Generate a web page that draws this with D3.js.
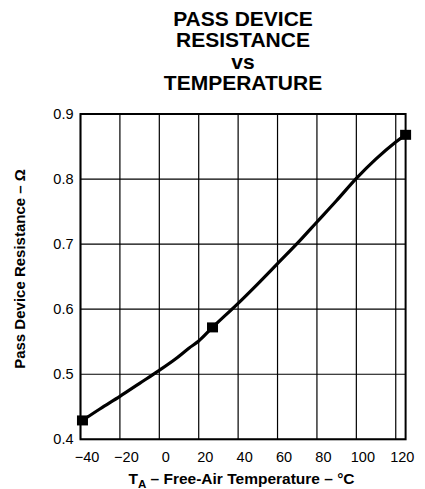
<!DOCTYPE html>
<html><head><meta charset="utf-8">
<script src="https://cdn.jsdelivr.net/npm/d3@7"></script>
<style>body{margin:0;background:#fff}svg{display:block}text{font-family:"Liberation Sans",Arial,Helvetica,sans-serif}</style>
</head><body><svg id="c" width="425" height="489"></svg>
<script>
const titleLines = ["PASS DEVICE","RESISTANCE","vs","TEMPERATURE"];
const xTicks = [-40,-20,0,20,40,60,80,100,120];
const xTickLabels = ["\u221240","\u221220","0","20","40","60","80","100","120"];
const yTicks = [0.4,0.5,0.6,0.7,0.8,0.9];
const yTickLabels = ["0.4","0.5","0.6","0.7","0.8","0.9"];
const curveT = [-39,-30,-20,-10,0,8,15,20,27,40,50,60,70,80,90,100,110,120,125];
const curveR = [0.429,0.447,0.466,0.486,0.506,0.523,0.540,0.551,0.572,0.609,0.639,0.670,0.701,0.734,0.767,0.801,0.831,0.857,0.868];
const markerT = [-39,27,125];
const markerR = [0.429,0.572,0.868];

const svg = d3.select("#c");
const L=80.5,R=405.6,T=114,B=439.3;
const x = d3.scaleLinear().domain([-40,125]).range([L,R]);
const y = d3.scaleLinear().domain([0.4,0.9]).range([B,T]);

// title
const tt = svg.append("text").attr("text-anchor","middle").attr("font-weight","bold").attr("font-size",21);
titleLines.forEach((s,i)=>tt.append("tspan").attr("x",243).attr("y",26+i*21.3).text(s));

// grid
const g = svg.append("g");
g.selectAll(".vg").data(xTicks).join("line").attr("x1",d=>x(d)).attr("x2",d=>x(d)).attr("y1",T).attr("y2",B).attr("stroke","#000").attr("stroke-width",1.2);
g.selectAll(".hg").data(yTicks).join("line").attr("x1",L).attr("x2",R).attr("y1",d=>y(d)).attr("y2",d=>y(d)).attr("stroke","#000").attr("stroke-width",1.2);
svg.append("rect").attr("x",L).attr("y",T).attr("width",R-L).attr("height",B-T).attr("fill","none").attr("stroke","#000").attr("stroke-width",2);

// axes labels
const xa = d3.axisBottom(x).tickValues(xTicks).tickFormat((d,i)=>xTickLabels[i]).tickSize(0).tickPadding(0);
const xg = svg.append("g").attr("transform",`translate(6,${B})`).call(xa);
xg.select(".domain").remove();
xg.selectAll("text").attr("font-size",14.5).attr("font-family","Liberation Sans, Arial, sans-serif").attr("fill","#000").attr("dy",0).attr("y",22.4);
const ya = d3.axisLeft(y).tickValues(yTicks).tickFormat((d,i)=>yTickLabels[i]).tickSize(0).tickPadding(7);
const yg = svg.append("g").attr("transform",`translate(${L},0)`).call(ya);
yg.select(".domain").remove();
yg.selectAll("text").attr("font-size",14.5).attr("font-family","Liberation Sans, Arial, sans-serif").attr("fill","#000");

// curve
const pts = curveT.map((t,i)=>[t,curveR[i]]);
svg.append("path").datum(pts).attr("d",d3.line().x(d=>x(d[0])).y(d=>y(d[1])).curve(d3.curveCatmullRom))
  .attr("fill","none").attr("stroke","#000").attr("stroke-width",3.2);
svg.selectAll(".mk").data(markerT.map((t,i)=>[t,markerR[i]])).join("rect")
  .attr("x",d=>x(d[0])-5.5).attr("y",d=>y(d[1])-5).attr("width",11).attr("height",10).attr("fill","#000");

// axis titles
const xt = svg.append("text").attr("x",241.5).attr("y",484).attr("text-anchor","middle").attr("font-weight","bold").attr("font-size",15.5);
xt.append("tspan").text("T");
xt.append("tspan").attr("font-size",11.5).attr("dy",3.5).text("A");
xt.append("tspan").attr("dy",-3.5).text(" \u2013 Free-Air Temperature \u2013 \u00B0C");
svg.append("text").attr("transform","translate(25,269) rotate(-90)").attr("text-anchor","middle").attr("font-weight","bold").attr("font-size",15).text("Pass Device Resistance \u2013 \u03A9");
</script></body></html>
